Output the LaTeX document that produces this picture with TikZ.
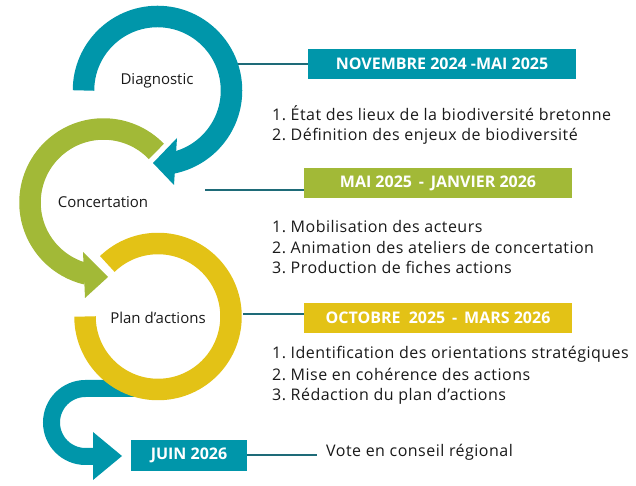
\documentclass[tikz,border=0pt]{standalone}
\usepackage{fontspec}
\setmainfont{Open Sans}
\newfontfamily\listfont[LetterSpace=3]{Open Sans}
\usetikzlibrary{positioning}
\definecolor{bleu}{HTML}{0096AA}
\definecolor{vert}{HTML}{A2B937}
\definecolor{jaune}{HTML}{E3C216}
\definecolor{trait}{HTML}{1E6B78}

\begin{document}
\begin{tikzpicture}[
    x = 1pt, y = 1pt,
    ring/.style = { line width = 21.5pt },
    datebox/.style = { rectangle, minimum width = 268pt, minimum height = 30pt,
      inner sep = 0pt, text = white, font = \fontsize{16}{18}\selectfont\bfseries },
    phase/.style = { inner sep = 0pt, text = black!90,
      font = \fontsize{15}{18}\selectfont },
    item/.style = { phase, anchor = base west,
      font = \fontsize{16}{18}\listfont },
    link/.style = { draw = trait, line width = 2pt }
    ]
  \useasboundingbox (0,0) rectangle (636,486);
  % bottom hook
  \draw[bleu, line width = 17pt] (135,97.5) -- (85.5,97.5)
    arc[start angle = 90, end angle = 270, radius = 34] -- (94,29.5);
  \fill[bleu] (93,54) -- (122,30) -- (93,6) -- cycle;
  % plan d'actions
  \draw[jaune, ring] (158,169.5) ++(134:73)
    arc[start angle = 134, end angle = -180, radius = 73];
  % concertation
  \draw[vert, ring] (103.5,283.5) ++(44:73.5)
    arc[start angle = 44, end angle = 257, radius = 73.5];
  \draw[white, line width = 4pt] (83,234) -- (108,209) -- (85,188);
  \fill[vert] (83,234) -- (108,209) -- (85,188) -- cycle;
  % diagnostic
  \draw[bleu, ring] (157.5,395.5) ++(180:74)
    arc[start angle = 180, end angle = -79, radius = 74];
  \draw[white, line width = 4pt] (177,348) -- (153,323) -- (174,301);
  \fill[bleu] (177,348) -- (153,323) -- (174,301) -- cycle;

  \node[phase] (diag) at (157,405) {Diagnostic};
  \node[phase] (conc) at (103,283.5) {Concertation};
  \node[phase] (plan) at (158,168) {Plan d’actions};

  \node[datebox, fill = bleu] (nov) at (442,422) {NOVEMBRE 2024 -MAI 2025};
  \node[datebox, fill = vert] (mai) at (438,302.5) {MAI 2025 \,-\, JANVIER 2026};
  \node[datebox, fill = jaune] (oct) at (438,168) {OCTOBRE\ \ 2025 \,-\, MARS 2026};
  \node[datebox, fill = bleu, minimum width = 116pt, minimum height = 31pt]
    (juin) at (189,30.5) {JUIN 2026};

  \node[item] (e11) at (272,365) {1.\ État des lieux de la biodiversité bretonne};
  \node[item] (e12) at (272,345.5) {2.\ Définition des enjeux de biodiversité};
  \node[item] (e21) at (272,253.3) {1.\ Mobilisation des acteurs};
  \node[item] (e22) at (272,232.7) {2.\ Animation des ateliers de concertation};
  \node[item] (e23) at (272,212) {3.\ Production de fiches actions};
  \node[item] (e31) at (272,127) {1.\ Identification des orientations stratégiques};
  \node[item] (e32) at (272,105.3) {2.\ Mise en cohérence des actions};
  \node[item] (e33) at (272,85) {3.\ Rédaction du plan d’actions};
  \node[item] (vote) at (326,29.3) {Vote en conseil régional};

  \coordinate (r1) at (238,422);
  \coordinate (r2) at (205,296);
  \coordinate (r3) at (243,172);
  \coordinate (v1) at (317,30.5);
  \draw[link] (r1) -- (nov);
  \draw[link] (r2) -- (r2 -| mai.west);
  \draw[link] (r3) -- (r3 -| oct.west);
  \draw[link] (juin) -- (v1);
\end{tikzpicture}
\end{document}
